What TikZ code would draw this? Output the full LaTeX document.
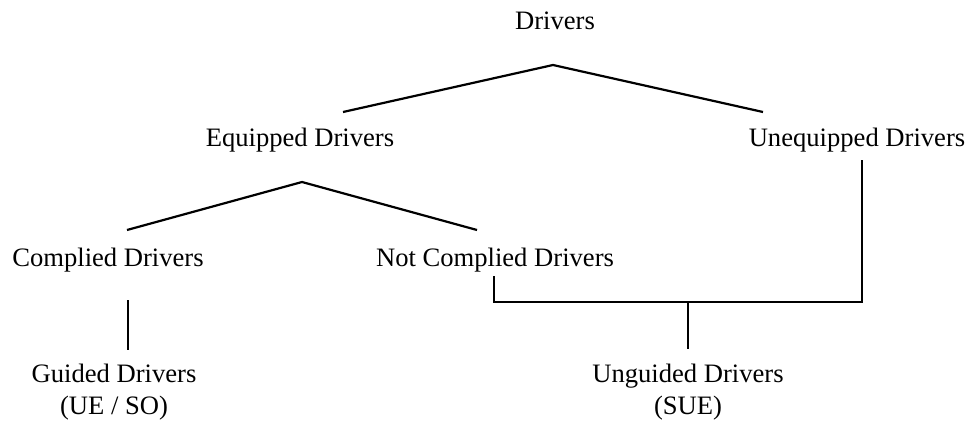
\documentclass[tikz,border=0pt]{standalone}
\usepackage{fontspec}
\setmainfont{Liberation Serif}
\tikzset{
    drv/.style={font=\fontsize{26.6}{32}\selectfont, inner sep=0pt, anchor=base, align=center},
    branch/.style={line width=2.2pt, line join=miter}
}

\begin{document}
\begin{tikzpicture}[x=1pt,y=-1pt]
    \useasboundingbox (0,0) rectangle (971,423);
    % categories
    \node[drv] (drivers) at (555,29) {Drivers};
    \node[drv] (equipped) at (300,146) {Equipped Drivers};
    \node[drv] (unequipped) at (857,146) {Unequipped Drivers};
    \node[drv] (complied) at (108,266) {Complied Drivers};
    \node[drv] (notcomplied) at (495,266) {Not Complied Drivers};
    \node[drv] (guided) at (114,414) {Guided Drivers\\(UE / SO)};
    \node[drv] (unguided) at (688,414) {Unguided Drivers\\(SUE)};
    % branch points
    \coordinate (dApex) at (553,65);
    \coordinate (eqEnd) at (343,112);
    \coordinate (ueEnd) at (763,112);
    \coordinate (eApex) at (302,182);
    \coordinate (cEnd) at (127,230);
    \coordinate (ncEnd) at (477,230);
    \coordinate (cFoot) at (128,300);
    \coordinate (gTop) at (128,350);
    \coordinate (ncFoot) at (494,276);
    \coordinate (ueFoot) at (862,160);
    \coordinate (merge) at (688,302);
    \coordinate (ugTop) at (688,349);
    \draw[branch] (eqEnd) -- (dApex) -- (ueEnd);
    \draw[branch] (cEnd) -- (eApex) -- (ncEnd);
    \draw[branch] (cFoot) -- (gTop);
    \draw[branch] (ncFoot) |- (merge) -| (ueFoot);
    \draw[branch] (merge) -- (ugTop);
\end{tikzpicture}
\end{document}
